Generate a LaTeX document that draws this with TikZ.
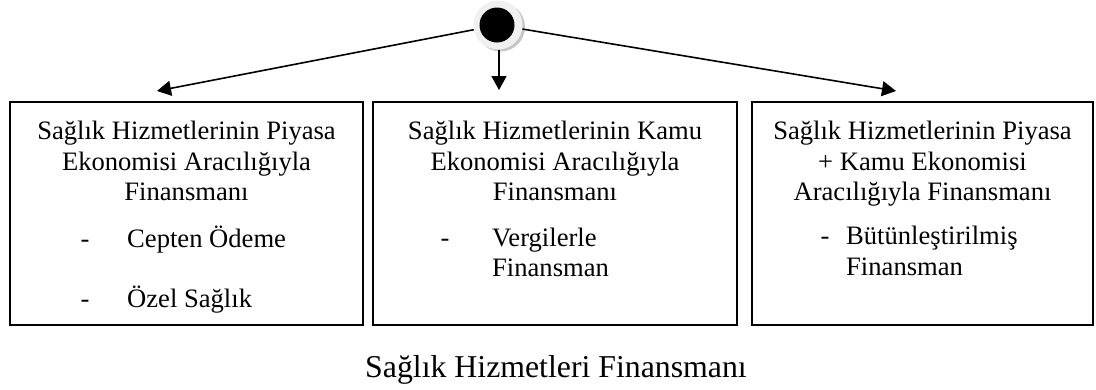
\documentclass[tikz,border=0pt]{standalone}
\usepackage{fontspec}
\setmainfont{Liberation Serif}
\usetikzlibrary{arrows.meta}
\tikzset{
  box/.style={draw=black, line width=1.6pt, inner sep=0pt},
  txt/.style={inner sep=0pt, anchor=base, font=\fontsize{26.6}{30.5}\selectfont},
  itm/.style={inner sep=0pt, anchor=base west, font=\fontsize{26.6}{30.5}\selectfont},
  arr/.style={line width=1.6pt, -{Triangle[length=14pt,width=15pt]}},
}
\begin{document}
\begin{tikzpicture}[x=1pt,y=-1pt]
\useasboundingbox (0,0) rectangle (1096,389);
% start dot
\fill[gray!45] (500.5,27) circle (24.5);
\node[circle, fill=gray!12, minimum size=49pt, inner sep=0pt] (halo) at (498,25) {};
\node[circle, fill=black, minimum size=35pt, inner sep=0pt] (dot) at (497,25) {};
% boxes
\node[box, minimum width=353pt, minimum height=223pt] (boxL) at (186.5,213.5) {};
\node[box, minimum width=364pt, minimum height=223pt] (boxM) at (555,213.5) {};
\node[box, minimum width=341pt, minimum height=223pt] (boxR) at (922.5,213.5) {};
% arrow tips
\coordinate (tipL) at (157,91);
\coordinate (tipM) at (499,90);
\coordinate (tipR) at (896,91);
\draw[arr] (halo) -- (tipL);
\draw[arr] (halo.south -| tipM) -- (tipM);
\draw[arr] (halo) -- (tipR);
% left box text
\node[txt] (l1) at (186.5,139) {Sağlık Hizmetlerinin Piyasa};
\node[txt] (l2) at (186.5,170) {Ekonomisi Aracılığıyla};
\node[txt] (l3) at (186.5,200) {Finansmanı};
\node[txt] (l4d) at (85,247) {-};
\node[itm] (l4) at (127,247) {Cepten Ödeme};
\node[txt] (l5d) at (85,307) {-};
\node[itm] (l5) at (127,307) {Özel Sağlık};
% middle box text
\node[txt] (m1) at (555,139) {Sağlık Hizmetlerinin Kamu};
\node[txt] (m2) at (555,170) {Ekonomisi Aracılığıyla};
\node[txt] (m3) at (555,200) {Finansmanı};
\node[txt] (m4d) at (445,246) {-};
\node[itm] (m4) at (492,246) {Vergilerle};
\node[itm] (m5) at (492,276) {Finansman};
% right box text
\node[txt] (r1) at (922.5,139) {Sağlık Hizmetlerinin Piyasa};
\node[txt] (r2) at (922.5,170) {+ Kamu Ekonomisi};
\node[txt] (r3) at (922.5,200) {Aracılığıyla Finansmanı};
\node[txt] (r4d) at (825,244) {-};
\node[itm] (r4) at (846,244) {Bütünleştirilmiş};
\node[itm] (r5) at (846,275) {Finansman};
% title
\node[inner sep=0pt, anchor=base, font=\fontsize{31.8}{36}\selectfont] (title) at (556,377) {Sağlık Hizmetleri Finansmanı};
\end{tikzpicture}
\end{document}
